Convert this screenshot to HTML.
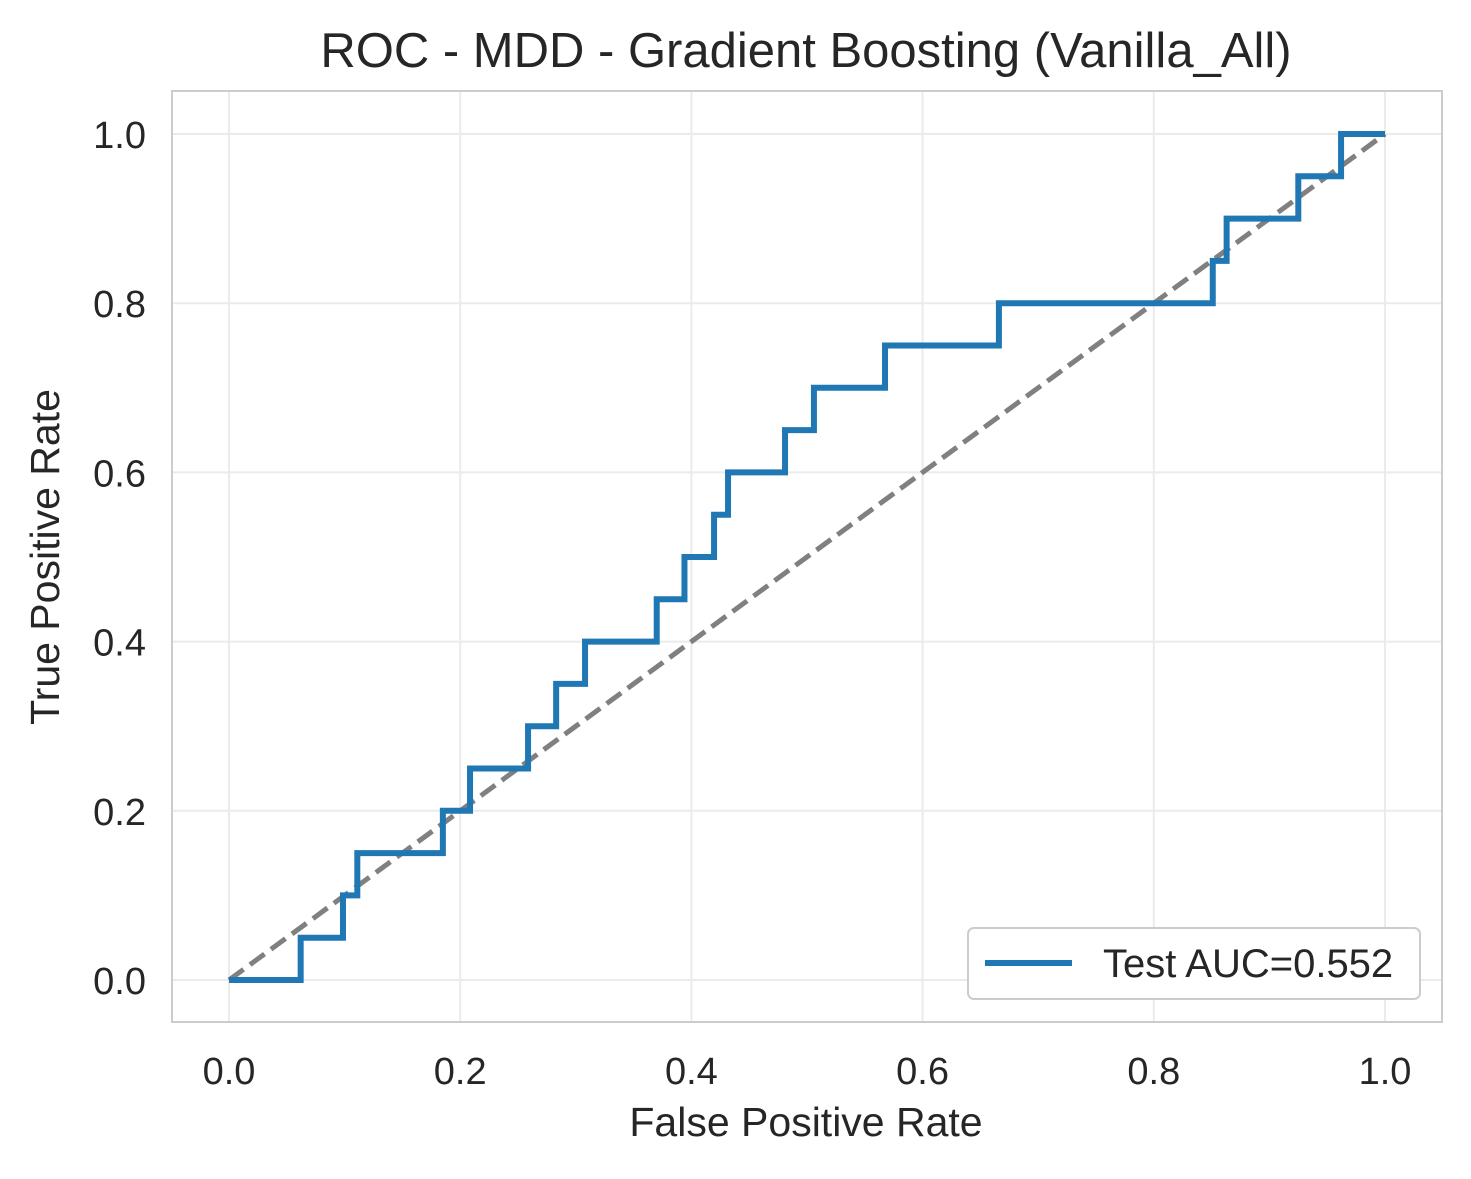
<!DOCTYPE html>
<html><head><meta charset="utf-8"><style>
body{margin:0;background:#fff}
svg text{font-family:"Liberation Sans",sans-serif;fill:#262626}
</style></head><body>
<svg width="1471" height="1174" xmlns="http://www.w3.org/2000/svg">
<rect width="1471" height="1174" fill="#fff"/>
<g id="grid"></g>
<rect x="172" y="91" width="1270" height="931" fill="none" stroke="#cccccc" stroke-width="2"/>
<g id="ticks"></g>
<path id="diag" fill="none" stroke="#808080" stroke-width="5" stroke-dasharray="18,8"/>
<path id="roc" fill="none" stroke="#1f77b4" stroke-width="6" stroke-linejoin="miter"/>
<text x="806" y="67" font-size="49" text-anchor="middle">ROC - MDD - Gradient Boosting (Vanilla_All)</text>
<text x="806" y="1136" font-size="41" text-anchor="middle">False Positive Rate</text>
<text x="0" y="0" font-size="41" text-anchor="middle" transform="translate(59,557) rotate(-90)">True Positive Rate</text>
<g>
<rect x="968" y="928" width="452" height="71" rx="6" fill="#fff" stroke="#cccccc" stroke-width="2"/>
<line x1="985" y1="963" x2="1072" y2="963" stroke="#1f77b4" stroke-width="6"/>
<text x="1103" y="977" font-size="40">Test AUC=0.552</text>
</g>
</svg>
<script>
const fpr=[0,0.062,0.062,0.0986,0.0986,0.111,0.111,0.185,0.185,0.2085,0.2085,0.2587,0.2587,0.283,0.283,0.308,0.308,0.370,0.370,0.394,0.394,0.4196,0.4196,0.4317,0.4317,0.481,0.481,0.506,0.506,0.5675,0.5675,0.666,0.666,0.851,0.851,0.863,0.863,0.925,0.925,0.962,0.962,1.0];
const tpr=[0,0,0.05,0.05,0.10,0.10,0.15,0.15,0.20,0.20,0.25,0.25,0.30,0.30,0.35,0.35,0.40,0.40,0.45,0.45,0.50,0.50,0.55,0.55,0.60,0.60,0.65,0.65,0.70,0.70,0.75,0.75,0.80,0.80,0.85,0.85,0.90,0.90,0.95,0.95,1.0,1.0];
const xTicks=[0,0.2,0.4,0.6,0.8,1.0];
const yTicks=[0,0.2,0.4,0.6,0.8,1.0];
const xs=v=>229+v*1156, ys=v=>980-v*846;
const NS="http://www.w3.org/2000/svg";
const grid=document.getElementById('grid'), ticks=document.getElementById('ticks');
xTicks.forEach(t=>{
  const l=document.createElementNS(NS,'line');
  l.setAttribute('x1',xs(t));l.setAttribute('x2',xs(t));l.setAttribute('y1',91);l.setAttribute('y2',1022);
  l.setAttribute('stroke','#ebebeb');l.setAttribute('stroke-width',2);
  
  
  grid.appendChild(l);
  const tx=document.createElementNS(NS,'text');
  tx.setAttribute('x',xs(t));tx.setAttribute('y',1084);tx.setAttribute('font-size',38);tx.setAttribute('text-anchor','middle');
  tx.textContent=t.toFixed(1);
  
  
  ticks.appendChild(tx);
});
yTicks.forEach(t=>{
  const l=document.createElementNS(NS,'line');
  l.setAttribute('y1',ys(t));l.setAttribute('y2',ys(t));l.setAttribute('x1',172);l.setAttribute('x2',1442);
  l.setAttribute('stroke','#ebebeb');l.setAttribute('stroke-width',2);
  
  
  grid.appendChild(l);
  const tx=document.createElementNS(NS,'text');
  tx.setAttribute('x',146);tx.setAttribute('y',ys(t)+14);tx.setAttribute('font-size',38);tx.setAttribute('text-anchor','end');
  tx.textContent=t.toFixed(1);
  
  
  ticks.appendChild(tx);
});
document.getElementById('diag').setAttribute('d',`M${xs(0)},${ys(0)}L${xs(1)},${ys(1)}`);
document.getElementById('roc').setAttribute('d',fpr.map((f,i)=>(i?'L':'M')+xs(f)+','+ys(tpr[i])).join(''));
</script>
</body></html>
